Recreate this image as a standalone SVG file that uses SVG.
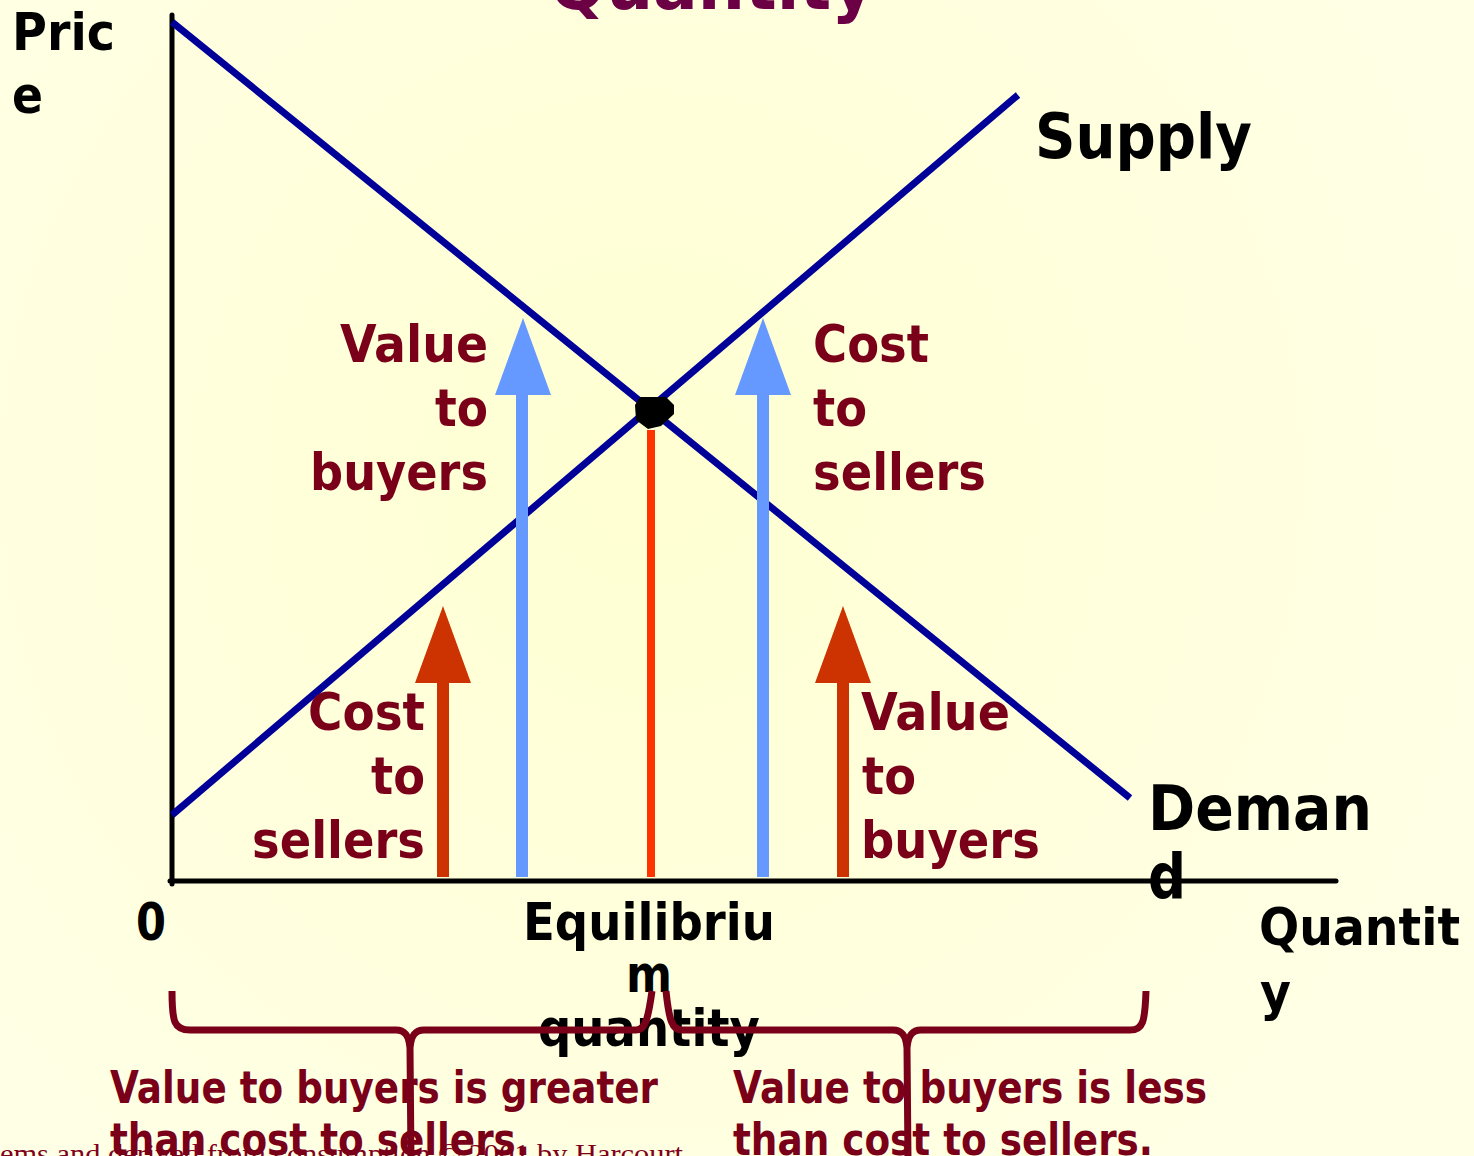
<svg xmlns="http://www.w3.org/2000/svg" width="1474" height="1156" viewBox="0 0 1474 1156">
<defs>
<radialGradient id="bg" cx="650" cy="480" r="900" gradientUnits="userSpaceOnUse">
<stop offset="0" stop-color="#FFFFD2"/>
<stop offset="1" stop-color="#FFFFE6"/>
</radialGradient>
<style>
.b{font-family:"DejaVu Sans",Verdana,sans-serif;font-weight:bold;fill:#000;font-size:52px}
.r{font-family:"DejaVu Sans",Verdana,sans-serif;font-weight:bold;fill:#7A0019;font-size:52px}
.s{font-size:45px}
.curve{stroke:#000099;stroke-width:7;fill:none}
.brace{stroke:#7A0019;stroke-width:7;fill:none;stroke-linejoin:round}
</style>
</defs>
<rect width="1474" height="1156" fill="url(#bg)"/>
<text x="712" y="9" text-anchor="middle" textLength="325" lengthAdjust="spacingAndGlyphs" style="font-family:'DejaVu Sans',Verdana,sans-serif;font-weight:bold;font-size:70px;fill:#6B0045">Quantity</text>
<text x="0" y="1163" textLength="683" lengthAdjust="spacingAndGlyphs" style="font-family:'Liberation Serif','Times New Roman',serif;font-size:28px;fill:#800020">ems and derived from consumption © 2001 by Harcourt</text>

<g id="axes">
<line x1="172" y1="15" x2="172" y2="884" stroke="#000" stroke-width="5" stroke-linecap="round"/>
<line x1="170" y1="881" x2="1336" y2="881" stroke="#000" stroke-width="5" stroke-linecap="round"/>
</g>

<g id="labels">
<text class="b" x="12" y="50" textLength="103" lengthAdjust="spacingAndGlyphs">Pric</text>
<text class="b" x="12" y="113" textLength="31" lengthAdjust="spacingAndGlyphs">e</text>
<text class="b" x="136" y="940" textLength="30" lengthAdjust="spacingAndGlyphs">0</text>
<text class="b" x="1259" y="945" textLength="201" lengthAdjust="spacingAndGlyphs">Quantit</text>
<text class="b" x="1260" y="1010" textLength="31" lengthAdjust="spacingAndGlyphs">y</text>
<text class="b" x="523" y="940" textLength="252" lengthAdjust="spacingAndGlyphs">Equilibriu</text>
<text class="b" x="626" y="992" textLength="46" lengthAdjust="spacingAndGlyphs">m</text>
<text class="b" x="538" y="1046" textLength="222" lengthAdjust="spacingAndGlyphs">quantity</text>
</g>

<g id="connectors">
<line id="demand" class="curve" x1="172" y1="22" x2="1130" y2="798"/>
<line id="supply" class="curve" x1="172" y1="815" x2="1018" y2="95"/>
<rect x="647" y="430" width="8" height="447" fill="#FF3300"/>
<rect x="516" y="393" width="12" height="484" fill="#6699FF"/>
<polygon points="495,395 551,395 523,318" fill="#6699FF"/>
<rect x="757" y="393" width="12" height="484" fill="#6699FF"/>
<polygon points="735,395 791,395 763,318" fill="#6699FF"/>
<rect x="437" y="681" width="12" height="196" fill="#CC3300"/>
<polygon points="415,683 471,683 443,606" fill="#CC3300"/>
<rect x="837" y="681" width="12" height="196" fill="#CC3300"/>
<polygon points="815,683 871,683 843,606" fill="#CC3300"/>
</g>

<g id="equilibrium">
<polygon points="640,397 666,397 674,405 674,414 661,426 648,429 636,420 635,405" fill="#000"/>
</g>

<g id="supply-label"><text class="b" x="1035" y="158" style="font-size:62px" textLength="217" lengthAdjust="spacingAndGlyphs">Supply</text></g>
<g id="demand-label">
<text class="b" x="1148" y="830" style="font-size:62px" textLength="224" lengthAdjust="spacingAndGlyphs">Deman</text>
<text class="b" x="1148" y="898" style="font-size:62px" textLength="38" lengthAdjust="spacingAndGlyphs">d</text>
</g>

<g id="value-buyers-left">
<text class="r" x="488" y="362" text-anchor="end" textLength="148" lengthAdjust="spacingAndGlyphs">Value</text>
<text class="r" x="488" y="426" text-anchor="end" textLength="53" lengthAdjust="spacingAndGlyphs">to</text>
<text class="r" x="488" y="490" text-anchor="end" textLength="178" lengthAdjust="spacingAndGlyphs">buyers</text>
</g>
<g id="cost-sellers-right">
<text class="r" x="813" y="362" textLength="116" lengthAdjust="spacingAndGlyphs">Cost</text>
<text class="r" x="813" y="426" textLength="54" lengthAdjust="spacingAndGlyphs">to</text>
<text class="r" x="813" y="490" textLength="173" lengthAdjust="spacingAndGlyphs">sellers</text>
</g>
<g id="cost-sellers-left">
<text class="r" x="425" y="730" text-anchor="end" textLength="117" lengthAdjust="spacingAndGlyphs">Cost</text>
<text class="r" x="425" y="794" text-anchor="end" textLength="54" lengthAdjust="spacingAndGlyphs">to</text>
<text class="r" x="425" y="858" text-anchor="end" textLength="173" lengthAdjust="spacingAndGlyphs">sellers</text>
</g>
<g id="value-buyers-right">
<text class="r" x="861" y="730" textLength="149" lengthAdjust="spacingAndGlyphs">Value</text>
<text class="r" x="862" y="794" textLength="54" lengthAdjust="spacingAndGlyphs">to</text>
<text class="r" x="861" y="858" textLength="179" lengthAdjust="spacingAndGlyphs">buyers</text>
</g>

<g id="bottom-left">
<text class="r s" x="110" y="1103" textLength="548" lengthAdjust="spacingAndGlyphs">Value to buyers is greater</text>
<text class="r s" x="110" y="1155" textLength="420" lengthAdjust="spacingAndGlyphs">than cost to sellers.</text>
</g>
<g id="bottom-right">
<text class="r s" x="733" y="1103" textLength="474" lengthAdjust="spacingAndGlyphs">Value to buyers is less</text>
<text class="r s" x="733" y="1155" textLength="420" lengthAdjust="spacingAndGlyphs">than cost to sellers.</text>
</g>

<g id="braces">
<path class="brace" d="M172,991 C172,1022 174,1030 190,1030 L396,1030 C405,1030 409,1036 410,1048 L411,1160 M410,1048 C411,1036 415,1030 424,1030 L636,1030 C645,1030 648,1020 652,991"/>
<path class="brace" d="M666,991 C669,1020 672,1030 682,1030 L893,1030 C902,1030 906,1036 907,1048 L908,1160 M907,1048 C908,1036 912,1030 921,1030 L1130,1030 C1143,1030 1145,1022 1146,991"/>
</g>
</svg>
